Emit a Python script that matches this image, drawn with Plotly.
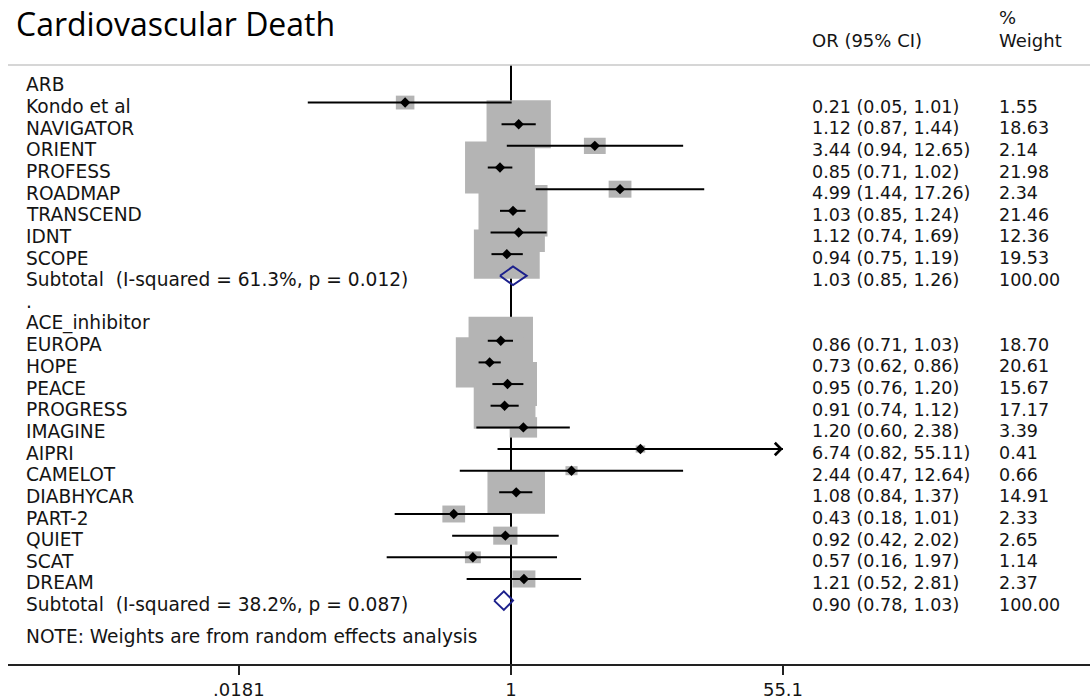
import numpy as np
import plotly.graph_objects as go

# ---------------- data ----------------
title_text = "Cardiovascular Death"

arb_label = "ARB"
arb_studies = ["Kondo et al", "NAVIGATOR", "ORIENT", "PROFESS", "ROADMAP",
               "TRANSCEND", "IDNT", "SCOPE"]
arb_or = [0.21, 1.12, 3.44, 0.85, 4.99, 1.03, 1.12, 0.94]
arb_lo = [0.05, 0.87, 0.94, 0.71, 1.44, 0.85, 0.74, 0.75]
arb_hi = [1.01, 1.44, 12.65, 1.02, 17.26, 1.24, 1.69, 1.19]
arb_w = [1.55, 18.63, 2.14, 21.98, 2.34, 21.46, 12.36, 19.53]
arb_sub = (1.03, 0.85, 1.26)
arb_sub_label = "Subtotal  (I-squared = 61.3%, p = 0.012)"

ace_label = "ACE_inhibitor"
ace_studies = ["EUROPA", "HOPE", "PEACE", "PROGRESS", "IMAGINE", "AIPRI",
               "CAMELOT", "DIABHYCAR", "PART-2", "QUIET", "SCAT", "DREAM"]
ace_or = [0.86, 0.73, 0.95, 0.91, 1.20, 6.74, 2.44, 1.08, 0.43, 0.92, 0.57, 1.21]
ace_lo = [0.71, 0.62, 0.76, 0.74, 0.60, 0.82, 0.47, 0.84, 0.18, 0.42, 0.16, 0.52]
ace_hi = [1.03, 0.86, 1.20, 1.12, 2.38, 55.11, 12.64, 1.37, 1.01, 2.02, 1.97, 2.81]
ace_w = [18.70, 20.61, 15.67, 17.17, 3.39, 0.41, 0.66, 14.91, 2.33, 2.65, 1.14, 2.37]
ace_sub = (0.90, 0.78, 1.03)
ace_sub_label = "Subtotal  (I-squared = 38.2%, p = 0.087)"

spacer_label = "."
note_text = "NOTE: Weights are from random effects analysis"
col_or_header = "OR (95% CI)"
col_w_header1 = "%"
col_w_header2 = "Weight"

tick_vals = [0.0181, 1, 55.1]
tick_text = [".0181", "1", "55.1"]
null_value = 1

# ---------------- layout constants (pixels) ----------------
W, H = 1090, 700
L, R, T, B = 8, 0, 65, 32
PW, PH = W - L - R, H - T - B
ROW0_PX, ROW_PX = 81, 21.8          # pixel y of row 0 and row pitch
DEC_PX = 156.2                      # pixels per decade on x
X1_PX = 511                         # pixel x of OR = 1

xr = [-(X1_PX - L) / DEC_PX, (W - R - X1_PX) / DEC_PX]
yr = [(H - B - ROW0_PX) / ROW_PX, (T - ROW0_PX) / ROW_PX]   # reversed

def px2paper_x(px):
    return (px - L) / PW

def px2paper_y(py):
    return (H - B - py) / PH

FONT = "DejaVu Sans"
FS_LAB = 18.6
FS_NUM = 17.5
FS_HEAD = 18
TXT = "#141414"
BOX = "#b4b4b4"
NAVY = "#1c208c"
BOX_W_K = 14.9   # box width  ~ sqrt(weight)
BOX_H_K = 11.1   # box height ~ sqrt(weight)
TXT_SHIFT = -4

# ---------------- build rows ----------------
rows = []  # (kind, label, or, lo, hi, w, rowpos)
r = 0
rows.append(("head", arb_label, None, None, None, None, r)); r += 1
for s, o, lo, hi, w in zip(arb_studies, arb_or, arb_lo, arb_hi, arb_w):
    rows.append(("study", s, o, lo, hi, w, r)); r += 1
rows.append(("sub", arb_sub_label, *arb_sub, 100.0, r)); r += 1
rows.append(("head", spacer_label, None, None, None, None, r)); r += 1
rows.append(("head", ace_label, None, None, None, None, r)); r += 1
for s, o, lo, hi, w in zip(ace_studies, ace_or, ace_lo, ace_hi, ace_w):
    rows.append(("study", s, o, lo, hi, w, r)); r += 1
rows.append(("sub", ace_sub_label, *ace_sub, 100.0, r)); r += 1
note_row = r + 0.5

xmax = max(tick_vals)

fig = go.Figure()
shapes = []
annotations = []

# null line (below boxes) -- on linear overlay axis x2 (log10 units)
shapes.append(dict(type="line", xref="x2", yref="paper",
                   x0=np.log10(null_value), x1=np.log10(null_value),
                   y0=0, y1=1, line=dict(color="#000000", width=2), layer="below"))
# top rule
shapes.append(dict(type="line", xref="paper", yref="paper", x0=0, x1=1, y0=1, y1=1,
                   line=dict(color="#c8c8c8", width=1.5), layer="below"))

ci_x, ci_y = [], []
pt_x, pt_y = [], []
for kind, lab, o, lo, hi, w, rp in rows:
    if kind != "study":
        continue
    bw = BOX_W_K * np.sqrt(w)
    bh = BOX_H_K * np.sqrt(w)
    shapes.append(dict(type="rect", xref="x2", yref="y", xsizemode="pixel", ysizemode="pixel",
                       xanchor=np.log10(o), yanchor=rp, x0=-bw / 2, x1=bw / 2,
                       y0=-bh / 2, y1=bh / 2,
                       fillcolor=BOX, line=dict(width=0), layer="below"))
    top = min(hi, xmax)
    ci_x += [lo, top, None]
    ci_y += [rp, rp, None]
    pt_x.append(o)
    pt_y.append(rp)
    if hi > xmax:
        annotations.append(dict(x=np.log10(xmax), y=rp, xref="x", yref="y", text="",
                                showarrow=True, arrowhead=4, arrowsize=1.2, arrowwidth=2,
                                arrowcolor="#000000", ax=-20, ay=0, standoff=0))

# dummy trace so that the overlay axis exists
fig.add_trace(go.Scatter(x=[], y=[], xaxis="x2", yaxis="y", showlegend=False,
                         hoverinfo="skip"))
fig.add_trace(go.Scatter(x=ci_x, y=ci_y, mode="lines", line=dict(color="#000000", width=2),
                         hoverinfo="skip", showlegend=False))
fig.add_trace(go.Scatter(x=pt_x, y=pt_y, mode="markers",
                         marker=dict(symbol="diamond", size=8, color="#000000"),
                         hoverinfo="skip", showlegend=False))

# subtotal diamonds
for kind, lab, o, lo, hi, w, rp in rows:
    if kind != "sub":
        continue
    h = 0.43
    fig.add_trace(go.Scatter(x=[lo, o, hi, o, lo], y=[rp, rp - h, rp, rp + h, rp],
                             mode="lines", line=dict(color=NAVY, width=2),
                             hoverinfo="skip", showlegend=False))

# text columns
LAB_X = px2paper_x(24)
OR_X = px2paper_x(810)
WT_X = px2paper_x(997)
for kind, lab, o, lo, hi, w, rp in rows:
    annotations.append(dict(x=LAB_X, y=rp, xref="paper", yref="y", text=lab, showarrow=False,
                            xanchor="left", yanchor="middle", yshift=TXT_SHIFT,
                            font=dict(family=FONT, size=FS_LAB, color=TXT)))
    if o is not None:
        annotations.append(dict(x=OR_X, y=rp, xref="paper", yref="y",
                                text=f"{o:.2f} ({lo:.2f}, {hi:.2f})", showarrow=False,
                                xanchor="left", yanchor="middle", yshift=TXT_SHIFT,
                                font=dict(family=FONT, size=FS_NUM, color=TXT)))
        annotations.append(dict(x=WT_X, y=rp, xref="paper", yref="y",
                                text=f"{w:.2f}", showarrow=False,
                                xanchor="left", yanchor="middle", yshift=TXT_SHIFT,
                                font=dict(family=FONT, size=FS_NUM, color=TXT)))
annotations.append(dict(x=LAB_X, y=note_row, xref="paper", yref="y", text=note_text,
                        showarrow=False, xanchor="left", yanchor="middle", yshift=-3,
                        font=dict(family=FONT, size=FS_LAB, color=TXT)))

# headers
annotations.append(dict(x=OR_X, y=px2paper_y(40), xref="paper", yref="paper", text=col_or_header,
                        showarrow=False, xanchor="left", yanchor="middle",
                        font=dict(family=FONT, size=FS_HEAD, color=TXT)))
annotations.append(dict(x=WT_X, y=px2paper_y(17), xref="paper", yref="paper", text=col_w_header1,
                        showarrow=False, xanchor="left", yanchor="middle",
                        font=dict(family=FONT, size=FS_HEAD, color=TXT)))
annotations.append(dict(x=WT_X, y=px2paper_y(40), xref="paper", yref="paper", text=col_w_header2,
                        showarrow=False, xanchor="left", yanchor="middle",
                        font=dict(family=FONT, size=FS_HEAD, color=TXT)))
# title
annotations.append(dict(x=px2paper_x(14), y=px2paper_y(23), xref="paper", yref="paper",
                        text=title_text, showarrow=False, xanchor="left", yanchor="middle",
                        font=dict(family="Open Sans", size=32, color="#000000")))

fig.update_layout(
    width=W, height=H, margin=dict(l=L, r=R, t=T, b=B),
    paper_bgcolor="white", plot_bgcolor="rgba(0,0,0,0)",
    showlegend=False, shapes=shapes, annotations=annotations,
    xaxis=dict(type="log", range=xr, showgrid=False, zeroline=False,
               showline=True, linecolor="#222222", linewidth=1.5,
               ticks="outside", ticklen=9, tickwidth=1.5, tickcolor="#222222",
               tickvals=tick_vals, ticktext=tick_text,
               tickfont=dict(family=FONT, size=FS_HEAD, color=TXT)),
    xaxis2=dict(type="linear", range=xr, overlaying="x", visible=False,
                showgrid=False, zeroline=False),
    yaxis=dict(range=yr, showgrid=False, zeroline=False, showline=False,
               showticklabels=False, ticks=""),
)

fig.write_html("out.html")
